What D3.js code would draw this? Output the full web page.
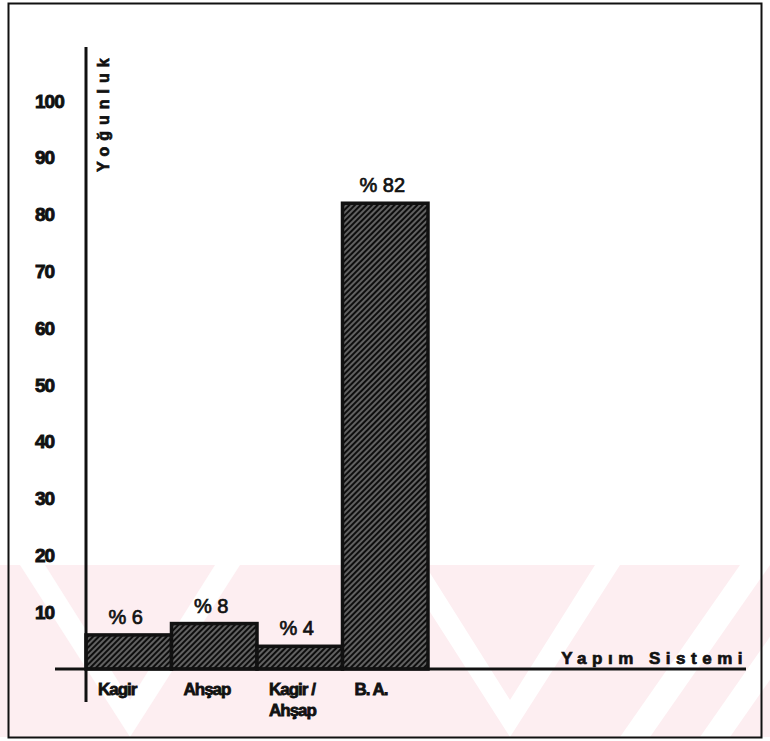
<!DOCTYPE html>
<html>
<head>
<meta charset="utf-8">
<script src="https://cdn.jsdelivr.net/npm/d3@7"></script>
<style>
  body { margin: 0; background: #fff; }
  text { font-family: "Liberation Sans", Arial, sans-serif; font-weight: bold; fill: #111; }
</style>
</head>
<body>
<svg id="chart" width="770" height="741"></svg>
<script>
// data
var categories = ["Kagir", "Ahşap", "Kagir / Ahşap", "B. A."];
var catLines = [["Kagir"], ["Ahşap"], ["Kagir /", "Ahşap"], ["B. A."]];
var values = [6, 8, 4, 82];
var yTicks = [10, 20, 30, 40, 50, 60, 70, 80, 90, 100];

var svg = d3.select("#chart");

// hatch pattern for bars
var defs = svg.append("defs");
var pat = defs.append("pattern")
  .attr("id", "hatch")
  .attr("patternUnits", "userSpaceOnUse")
  .attr("width", 4).attr("height", 4)
  .attr("patternTransform", "rotate(-45)");
pat.append("rect").attr("width", 4).attr("height", 4).attr("fill", "#0d0d0d");
pat.append("line").attr("x1", 0).attr("y1", 2).attr("x2", 4).attr("y2", 2)
  .attr("stroke", "#fff").attr("stroke-width", 0.7);

// faint watermark band
var wm = svg.append("g");
wm.append("rect").attr("x", 0).attr("y", 565).attr("width", 770).attr("height", 172)
  .attr("fill", "#fdeef1");
[0, 380].forEach(function(ox) {
  wm.append("path")
    .attr("d", "M" + (ox + 20) + ",565 L" + (ox + 45) + ",565 L" + (ox + 130) + ",700 L" + (ox + 215) + ",565 L" + (ox + 240) + ",565 L" + (ox + 130) + ",737 Z")
    .attr("fill", "#fff");
});
[620, 700].forEach(function(ox) {
  wm.append("path")
    .attr("d", "M" + ox + ",737 L" + (ox + 30) + ",737 L" + (ox + 150) + ",565 L" + (ox + 120) + ",565 Z")
    .attr("fill", "#fff");
});

// outer frame
svg.append("rect")
  .attr("x", 8.5).attr("y", 3.5).attr("width", 753).attr("height", 734)
  .attr("fill", "none").attr("stroke", "#111").attr("stroke-width", 2);

var x = d3.scaleBand().domain(categories).range([86, 428]).padding(0);
var y = d3.scaleLinear().domain([0, 100]).range([669, 101]);

// bars
svg.append("g").selectAll("rect")
  .data(values)
  .enter().append("rect")
  .attr("x", function(d, i) { return x(categories[i]); })
  .attr("y", function(d) { return y(d); })
  .attr("width", x.bandwidth())
  .attr("height", function(d) { return y(0) - y(d); })
  .attr("fill", "url(#hatch)")
  .attr("stroke", "#111")
  .attr("stroke-width", 3.5);

// value labels
svg.append("g").selectAll("text")
  .data(values)
  .enter().append("text")
  .attr("x", function(d, i) { return x(categories[i]) + x.bandwidth() / 2 - 3; })
  .attr("y", function(d) { return y(d) - 11; })
  .attr("text-anchor", "middle")
  .style("font-size", "20px")
  .style("font-weight", "normal")
  .style("stroke", "#111").style("stroke-width", 0.7)
  .text(function(d) { return "% " + d; });

// y axis
var yAxis = svg.append("g")
  .attr("transform", "translate(86,0)")
  .call(d3.axisLeft(y).tickValues(yTicks).tickSize(0));
yAxis.select(".domain").remove();
yAxis.selectAll("text")
  .attr("x", -51)
  .attr("text-anchor", "start")
  .style("font-size", "19px")
  .style("letter-spacing", "-1px")
  .style("font-family", "'Liberation Sans', Arial, sans-serif")
  .style("font-weight", "bold")
  .style("fill", "#111")
  .style("stroke", "#111").style("stroke-width", 0.9);

svg.append("line")
  .attr("x1", 86).attr("x2", 86).attr("y1", 47).attr("y2", 702)
  .attr("stroke", "#111").attr("stroke-width", 3);

// baseline
svg.append("line")
  .attr("x1", 55).attr("x2", 746).attr("y1", 669).attr("y2", 669)
  .attr("stroke", "#111").attr("stroke-width", 3);

// category labels
var cat = svg.append("g").selectAll("text")
  .data(catLines)
  .enter().append("text")
  .attr("x", function(d, i) { return x(categories[i]) + 12; })
  .attr("y", 695)
  .style("font-size", "17px")
  .style("letter-spacing", "-1px")
  .style("stroke", "#111").style("stroke-width", 0.8);
cat.selectAll("tspan")
  .data(function(d) { return d; })
  .enter().append("tspan")
  .attr("x", function() { return d3.select(this.parentNode).attr("x"); })
  .attr("dy", function(d, i) { return i === 0 ? 0 : 21; })
  .text(function(d) { return d; });

// axis titles
svg.append("text")
  .attr("transform", "translate(109,172) rotate(-90)")
  .attr("text-anchor", "start")
  .style("font-size", "16px")
  .style("letter-spacing", "6px")
  .style("stroke", "#111").style("stroke-width", 0.7)
  .text("Yoğunluk");

svg.append("text")
  .attr("x", 748).attr("y", 664)
  .attr("text-anchor", "end")
  .style("font-size", "17px")
  .style("letter-spacing", "5.5px")
  .style("stroke", "#111").style("stroke-width", 0.7)
  .text("Yapım Sistemi");
</script>
</body>
</html>
